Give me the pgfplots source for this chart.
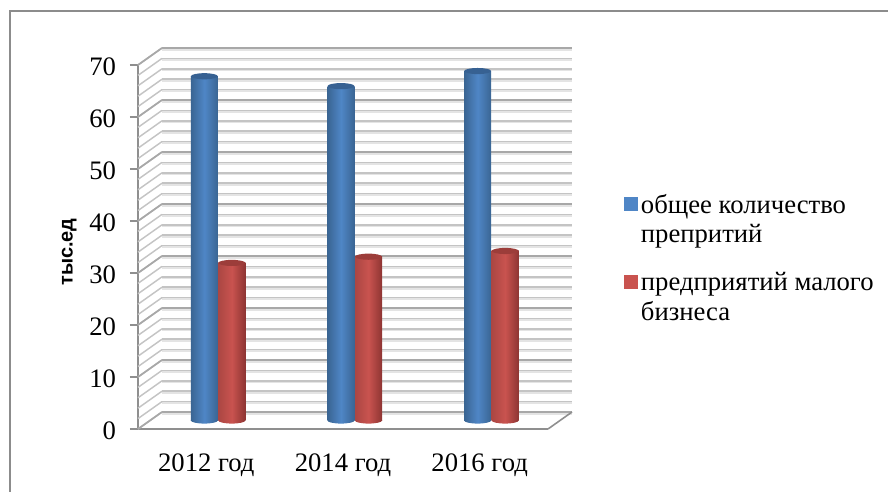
\documentclass[border=0pt]{standalone}
\usepackage{pgfplots}
\pgfplotsset{compat=1.18}
\usepackage{fontspec}
\setmainfont{Liberation Serif}
\setsansfont{Liberation Sans}
\newfontfamily\labelfont[BoldFont={Liberation Sans Bold}]{Liberation Sans}

\definecolor{bluedark}{HTML}{3A6593}
\definecolor{bluemid}{HTML}{4F86C6}
\definecolor{bluecapc}{HTML}{376192}
\definecolor{reddark}{HTML}{8E3533}
\definecolor{redmid}{HTML}{C9534F}
\definecolor{redcapc}{HTML}{9C3D3A}
\definecolor{wallgrid}{HTML}{C4C4C4}
\definecolor{wallmajor}{HTML}{A8A8A8}
\definecolor{framegray}{HTML}{8C8C8C}
\definecolor{axisgray}{HTML}{8F8F8F}

% Cylinder caps and rounded bases, given in points so they stay at the data position
\pgfdeclareplotmark{bluecap}{\path[draw=none,fill=bluecapc] (0pt,0pt) ellipse (10.1pt and 2.3pt);}
\pgfdeclareplotmark{redcap}{\path[draw=none,fill=redcapc] (0pt,0pt) ellipse (10.1pt and 2.3pt);}
\pgfdeclareplotmark{bluebase}{\path[draw=none,left color=bluedark,right color=bluedark,middle color=bluemid]
  (-10.12pt,0.2pt) -- (-10.12pt,0pt) arc (180:360:10.12pt and 2.3pt) -- (10.12pt,0.2pt) -- cycle;}
\pgfdeclareplotmark{redbase}{\path[draw=none,left color=redmid!85!black,right color=reddark,middle color=redmid]
  (-10.12pt,0.2pt) -- (-10.12pt,0pt) arc (180:360:10.12pt and 2.3pt) -- (10.12pt,0.2pt) -- cycle;}

\pgfplotsset{
  threed/.style={
    scale only axis,
    width=307.5pt,
    height=273pt,
    xmin=-0.5, xmax=2.5,
    ymin=0, ymax=70,
    clip=false,
  },
  bluebar/.style={ybar, bar width=20.25pt, bar shift=0pt, draw=none, forget plot,
    left color=bluedark, right color=bluedark, middle color=bluemid},
  redbar/.style={ybar, bar width=20.25pt, bar shift=0pt, draw=none, forget plot,
    left color=redmid!85!black, right color=reddark, middle color=redmid},
}

\begin{document}
\begin{tikzpicture}
\path[use as bounding box] (0pt,0pt) rectangle (666pt,369pt);

% Outer frame, open on the right and at the bottom
\draw[framegray, line width=1pt] (7.5pt,0pt) -- (7.5pt,360.75pt) -- (666pt,360.75pt);

% Back wall with horizontal grid
\begin{axis}[threed, at={(121.5pt,60pt)}, anchor=south west,
  axis lines=none, xtick=\empty, ytick=\empty]
  \pgfplotsinvokeforeach{0,2,...,70}{
    \draw[wallgrid!45, line width=1.4pt] (axis cs:-0.5,#1) ++(0pt,-1.3pt) -- ++(307.5pt,0pt);
    \draw[wallgrid, line width=1.1pt] (axis cs:-0.5,#1) -- (axis cs:2.5,#1);
  }
  \pgfplotsinvokeforeach{0,10,...,70}{
    \draw[wallmajor, line width=1.4pt] (axis cs:-0.5,#1) -- (axis cs:2.5,#1);
  }
\end{axis}

% Front axes, side wall diagonals and floor edge
\begin{axis}[threed, at={(103.5pt,47.25pt)}, anchor=south west,
  axis x line*=bottom, axis y line*=left,
  axis line style={axisgray, line width=1.2pt},
  xtick={0,1,2},
  xticklabels={2012 год,2014 год,2016 год},
  ytick={0,10,...,70},
  x tick style={draw=none},
  y tick style={axisgray, line width=1.1pt},
  tick align=outside,
  major tick length=6pt,
  /pgf/number format/assume math mode=true,
  tick label style={font=\fontsize{20}{22}\selectfont},
  xticklabel style={yshift=-9pt},
  yticklabel style={xshift=-7pt,yshift=-1.5pt},
  ylabel={\labelfont\bfseries тыс.ед},
  every axis y label/.style={at={(axis description cs:-0.168,0.486)},rotate=90,anchor=center,
    font=\fontsize{15}{18}\selectfont},
  legend style={at={(1.1854,0.6535)},anchor=north west,draw=none,fill=none,
    font=\fontsize{20}{22}\selectfont, cells={align=left,anchor=west},
    row sep=17pt, inner sep=0pt},
  legend image code/.code={\path[draw=none,#1,draw=none] (-1.5pt,6pt) rectangle (9pt,16.5pt);},
]
  \pgfplotsinvokeforeach{0,2,...,70}{
    \draw[wallgrid, line width=1.1pt] (axis cs:-0.5,#1) -- ++(18pt,12.75pt);
  }
  \pgfplotsinvokeforeach{0,10,...,70}{
    \draw[wallmajor, line width=1.3pt] (axis cs:-0.5,#1) -- ++(18pt,12.75pt);
  }
  \draw[axisgray, line width=1.2pt] (axis cs:2.5,0) -- ++(18pt,12.75pt);
  \addlegendimage{fill=bluemid}
  \addlegendentry{общее количество\\препритий}
  \addlegendimage{fill=redmid}
  \addlegendentry{предприятий малого\\бизнеса}
\end{axis}

% Cylinders standing mid-way in the depth of the floor
\begin{axis}[threed, at={(112.5pt,53.625pt)}, anchor=south west,
  axis lines=none, xtick=\empty, ytick=\empty]
  % общее количество предприятий
  \addplot[only marks, mark=bluebase, forget plot] coordinates {(-0.1024,0)(0.8976,0)(1.8976,0)};
  \addplot[bluebar] coordinates {(-0.1024,66.2)};
  \addplot[bluebar] coordinates {(0.8976,64.3)};
  \addplot[bluebar] coordinates {(1.8976,67.2)};
  \addplot[only marks, mark=bluecap, forget plot] coordinates {(-0.1024,66.2)(0.8976,64.3)(1.8976,67.2)};
  % предприятий малого бизнеса
  \addplot[only marks, mark=redbase, forget plot] coordinates {(0.0988,0)(1.0988,0)(2.0988,0)};
  \addplot[redbar] coordinates {(0.0988,30.3)};
  \addplot[redbar] coordinates {(1.0988,31.5)};
  \addplot[redbar] coordinates {(2.0988,32.6)};
  \addplot[only marks, mark=redcap, forget plot] coordinates {(0.0988,30.3)(1.0988,31.5)(2.0988,32.6)};
\end{axis}
\end{tikzpicture}
\end{document}
